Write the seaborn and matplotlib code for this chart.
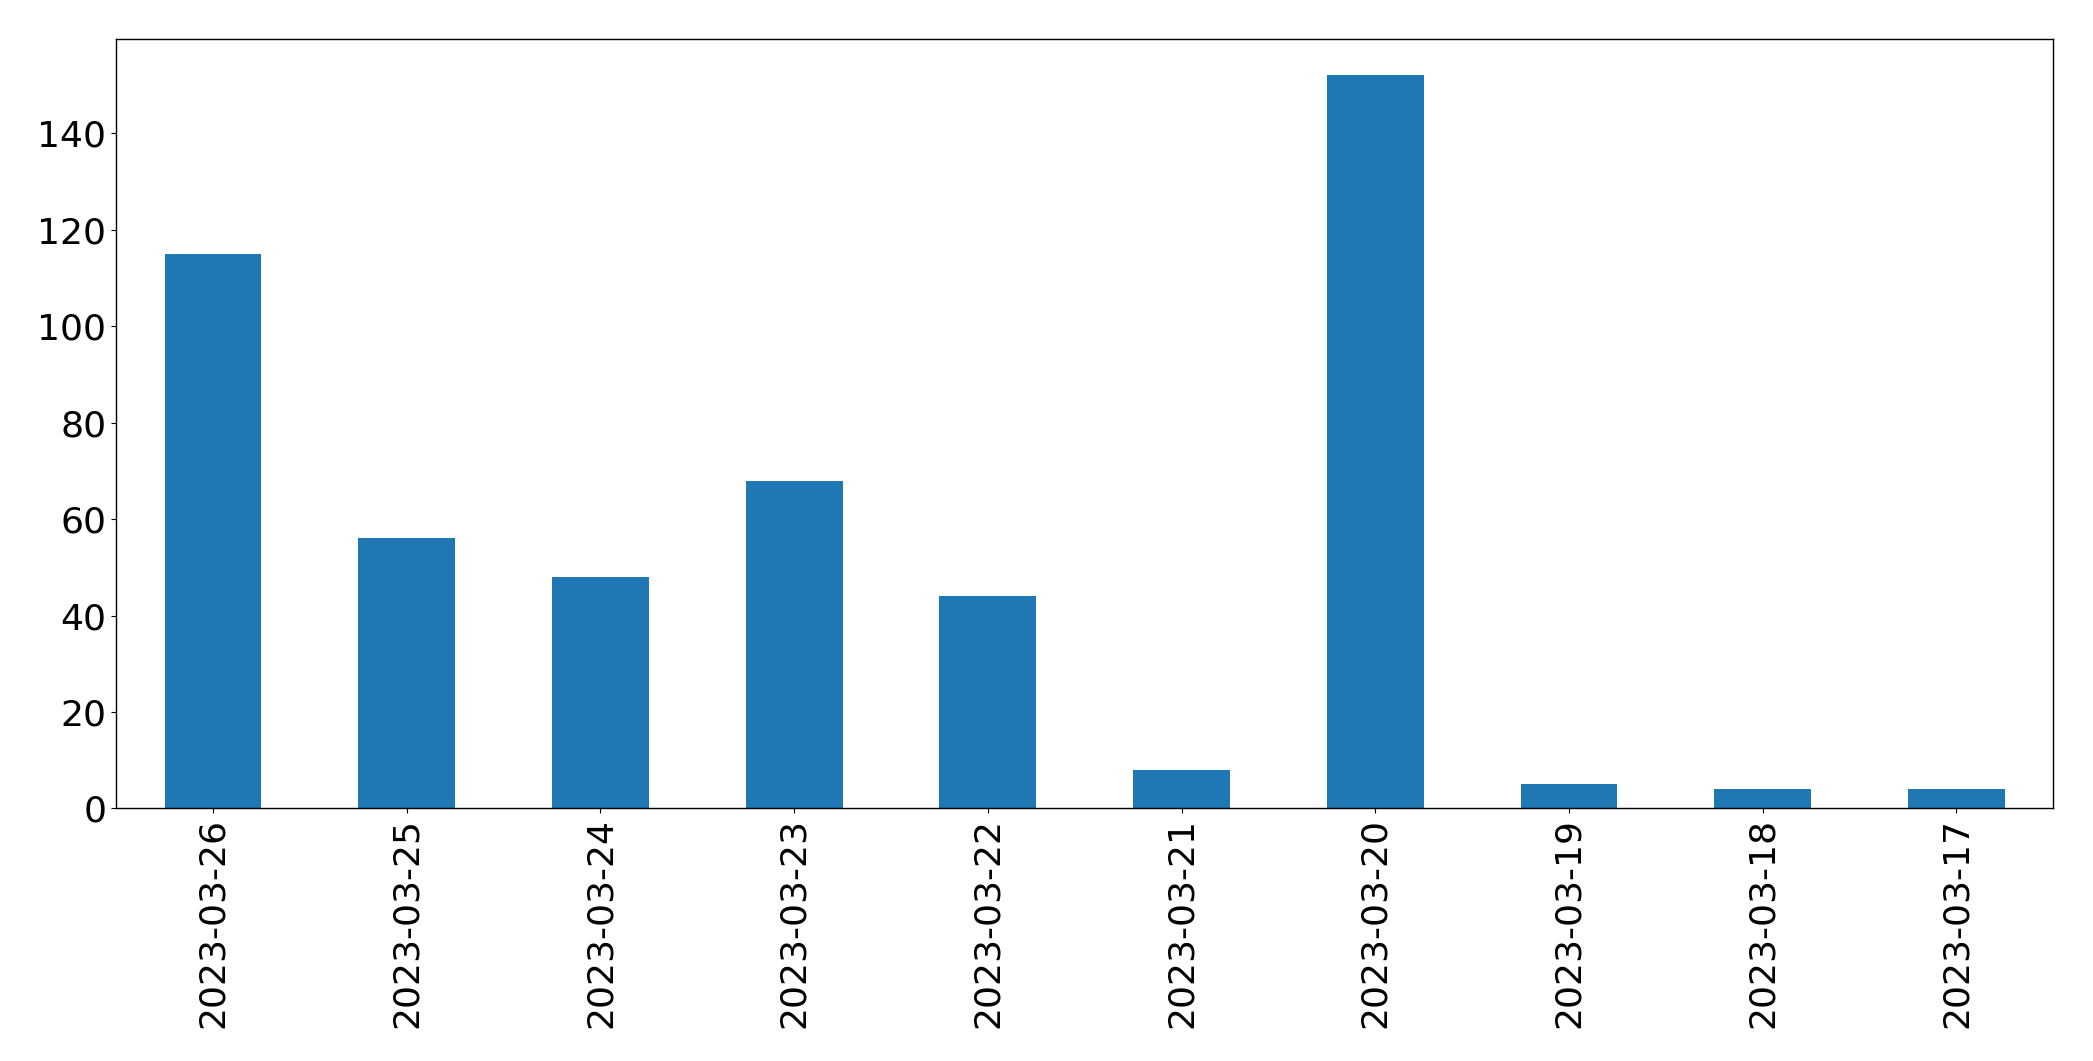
import pandas as pd
import matplotlib
matplotlib.use("Agg")
import matplotlib.pyplot as plt
import seaborn as sns

# Daily counts, newest first
dates = ["2023-03-26", "2023-03-25", "2023-03-24", "2023-03-23", "2023-03-22",
         "2023-03-21", "2023-03-20", "2023-03-19", "2023-03-18", "2023-03-17"]
counts = [115, 56, 48, 68, 44, 8, 152, 5, 4, 4]

df = pd.DataFrame({"date": dates, "count": counts})

fig = plt.figure(figsize=(20.93, 10.61), dpi=100)
ax = fig.add_axes([0.0555, 0.238, 0.9255, 0.7255])

sns.barplot(data=df, x="date", y="count", order=dates, color="#1f77b4",
            saturation=1, width=0.5, ax=ax)

ax.set_xlim(-0.5, len(dates) - 0.5)
ax.set_ylim(0, max(counts) * 1.05)
ax.set_xlabel("")
ax.set_ylabel("")
ax.tick_params(axis="both", labelsize=26, colors="black")
ax.tick_params(axis="x", labelrotation=90)
for spine in ax.spines.values():
    spine.set_color("black")
    spine.set_linewidth(1.0)

fig.savefig("out.png", dpi=100)
